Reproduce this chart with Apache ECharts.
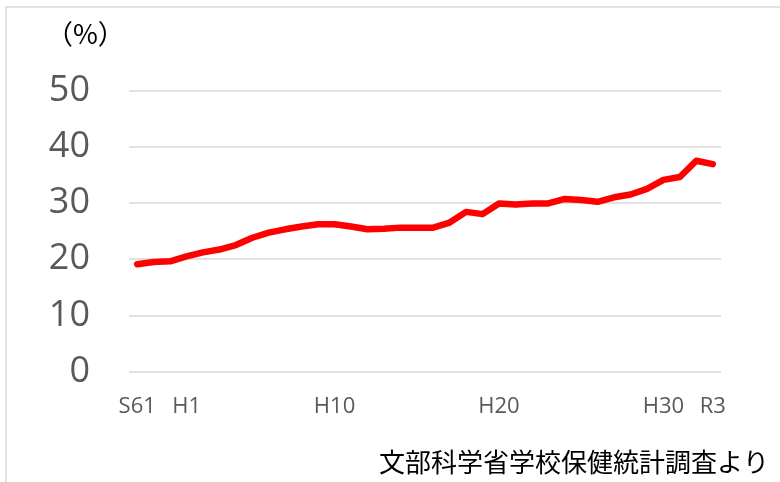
<!DOCTYPE html>
<html>
<head>
<meta charset="utf-8">
<script src="https://cdn.jsdelivr.net/npm/echarts@6/dist/echarts.min.js"></script>
<style>
html,body{margin:0;padding:0;background:#fff;}
#chart{width:780px;height:482px;}
</style>
</head>
<body>
<div id="chart"></div>
<script>
// Years (S61 = 1986 ... R3 = 2021)
const categories = ['S61','S62','S63','H1','H2','H3','H4','H5','H6','H7','H8','H9','H10','H11','H12','H13','H14','H15','H16','H17','H18','H19','H20','H21','H22','H23','H24','H25','H26','H27','H28','H29','H30','R1','R2','R3'];
// Percent values
const values = [19.1,19.5,19.6,20.5,21.2,21.7,22.5,23.8,24.7,25.3,25.8,26.2,26.2,25.8,25.3,25.4,25.6,25.6,25.6,26.5,28.4,28.0,29.9,29.7,29.9,29.9,30.7,30.5,30.2,31.0,31.5,32.5,34.1,34.6,37.5,36.9];
// Category labels that are shown on the x axis
const shownLabels = ['S61','H1','H10','H20','H30','R3'];
const unitLabel = '（%）';
const sourceLabel = '文部科学省学校保健統計調査より';

const chart = echarts.init(document.getElementById('chart'), null, {renderer:'canvas'});
chart.setOption({
  animation: false,
  backgroundColor: '#ffffff',
  grid: {left: 129, right: 59, top: 90.5, bottom: 110.5, containLabel: false},
  xAxis: {
    type: 'category',
    data: categories,
    boundaryGap: true,
    axisLine: {show: false},
    axisTick: {show: false},
    axisLabel: {
      interval: function (i, v) { return shownLabels.indexOf(v) !== -1; },
      color: '#595959',
      fontFamily: 'Open Sans',
      fontSize: 22,
      margin: 24
    },
    splitLine: {show: false}
  },
  yAxis: {
    type: 'value',
    min: 0, max: 50, interval: 10,
    axisLine: {show: false},
    axisTick: {show: false},
    axisLabel: {color: '#595959', fontFamily: 'Open Sans', fontSize: 36, margin: 39},
    splitLine: {lineStyle: {color: '#d9d9d9', width: 1.5}}
  },
  graphic: [
    {type: 'rect', shape: {x: 6, y: 7, width: 820, height: 520}, style: {fill: 'none', stroke: '#d9d9d9', lineWidth: 1.5}, silent: true},
    {type: 'text', left: 46, top: 20, style: {text: unitLabel, font: '27px "Noto Sans CJK JP"', fill: '#000'}},
    {type: 'text', right: 11, top: 449, style: {text: sourceLabel, font: '26px "Noto Sans CJK JP"', fill: '#000'}}
  ],
  series: [{
    type: 'line',
    data: values,
    symbol: 'none',
    smooth: false,
    lineStyle: {color: '#ff0000', width: 6.5, cap: 'round', join: 'round'}
  }]
});
</script>
</body>
</html>
